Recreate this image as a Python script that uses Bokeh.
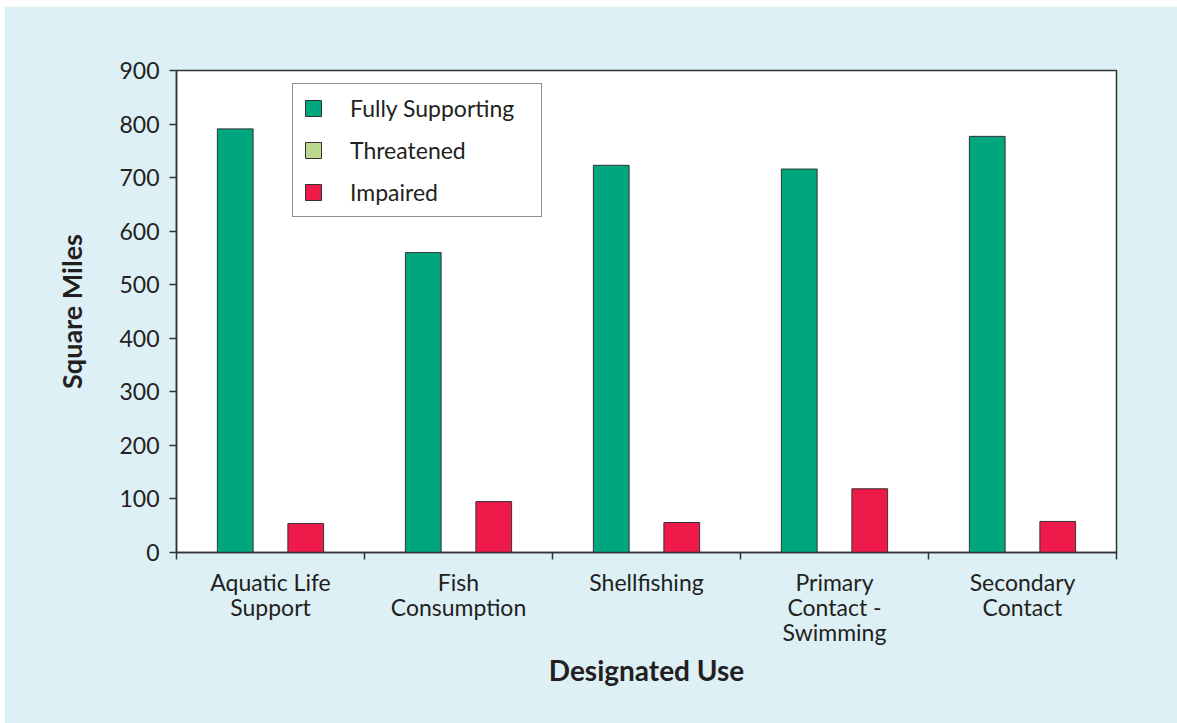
from bokeh.plotting import figure
from bokeh.models import ColumnDataSource, Range1d, Legend, LegendItem, FixedTicker, Spacer
from bokeh.layouts import column, row
from bokeh.transform import dodge
from bokeh.embed import file_html
from bokeh.resources import INLINE

categories = ["Aquatic Life\nSupport", "Fish\nConsumption", "Shellfishing",
              "Primary\nContact -\nSwimming", "Secondary\nContact"]
fully_supporting = [791, 560, 723, 716, 777]
threatened = [0, 0, 0, 0, 0]
impaired = [54, 95, 56, 119, 58]
series_names = ["Fully Supporting", "Threatened", "Impaired"]
y_ticks = [0, 100, 200, 300, 400, 500, 600, 700, 800, 900]

FONT = "Lato"
TXT = "#231f20"
BG = "#ddf0f6"
colors = ["#00a67e", "#bcd98f", "#ee1a4a"]

idx = list(range(len(categories)))
src = ColumnDataSource(dict(x=idx, fs=fully_supporting, th=threatened, im=impaired))

n = len(categories)
p = figure(x_range=Range1d(-0.5, n - 0.5), y_range=Range1d(0, 900),
           width=1173, height=717, output_backend="svg", toolbar_location=None,
           min_border_left=172, min_border_right=61, min_border_top=64, min_border_bottom=171)
p.background_fill_color = "white"
p.border_fill_color = BG
p.outline_line_color = "#333333"
p.outline_line_width = 1.5
p.grid.visible = False

w = 0.19
renderers = []
for off, col, c in zip([-0.1875, 0.0, 0.1875], ["fs", "th", "im"], colors):
    r = p.vbar(x=dodge("x", off), top=col, bottom=0, width=w, source=src,
               fill_color=c, line_color="#333333", line_width=1)
    renderers.append(r)

legend = Legend(items=[LegendItem(label=s, renderers=[r]) for s, r in zip(series_names, renderers)],
                location=(116, 335), orientation="vertical")
legend.border_line_color = "#222222"
legend.border_line_width = 1
legend.background_fill_color = "white"
legend.background_fill_alpha = 1
legend.label_text_font = FONT
legend.label_text_font_size = "23px"
legend.label_text_color = TXT
legend.glyph_width = 20
legend.glyph_height = 20
legend.label_standoff = 27
legend.padding = 10
legend.spacing = 14
legend.label_width = 181
legend.margin = 0
p.add_layout(legend, "center")

ya = p.yaxis[0]
ya.ticker = FixedTicker(ticks=y_ticks)
ya.major_tick_out = 7
ya.major_tick_in = 0
ya.minor_tick_line_color = None
ya.axis_line_color = "#333333"
ya.axis_line_width = 1.5
ya.major_tick_line_color = "#333333"
ya.major_tick_line_width = 1.5
ya.major_label_text_font = FONT
ya.major_label_text_font_size = "23px"
ya.major_label_text_color = TXT
ya.major_label_standoff = 10
ya.axis_label = "Square Miles"
ya.axis_label_text_font = FONT
ya.axis_label_text_font_size = "27px"
ya.axis_label_text_font_style = "bold"
ya.axis_label_text_color = TXT
ya.axis_label_standoff = 28

xa = p.xaxis[0]
bounds = [i - 0.5 for i in range(n + 1)]
xa.ticker = FixedTicker(ticks=idx, minor_ticks=bounds)
xa.major_label_overrides = {i: lab for i, lab in zip(idx, categories)}
xa.major_tick_line_color = None
xa.major_tick_out = 0
xa.major_tick_in = 0
xa.minor_tick_line_color = "#333333"
xa.minor_tick_line_width = 1.5
xa.minor_tick_out = 7
xa.minor_tick_in = 0
xa.axis_line_color = "#333333"
xa.axis_line_width = 1.5
xa.major_label_text_font = FONT
xa.major_label_text_font_size = "23px"
xa.major_label_text_color = TXT
xa.major_label_text_line_height = 0.9
xa.major_label_standoff = 8
xa.axis_label = "Designated Use"
xa.axis_label_text_font = FONT
xa.axis_label_text_font_size = "28px"
xa.axis_label_text_font_style = "bold"
xa.axis_label_text_color = TXT
xa.axis_label_standoff = 4

layout = column(Spacer(height=6, width=1177), row(Spacer(width=4, height=717), p))
open("out.html", "w").write(file_html(layout, INLINE))
